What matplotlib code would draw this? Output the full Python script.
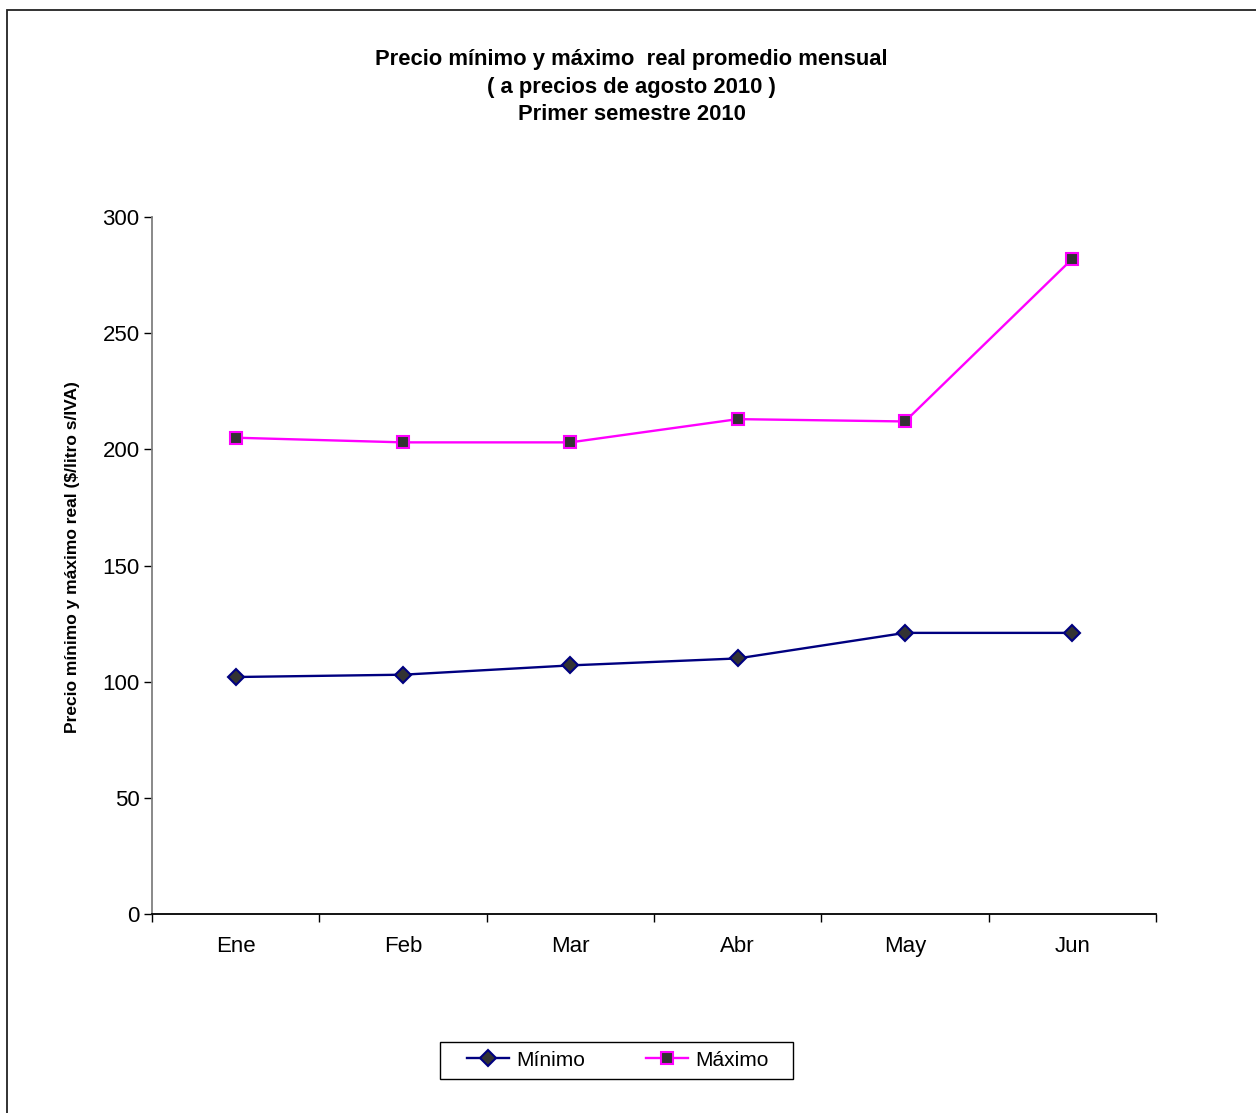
import matplotlib
matplotlib.use("Agg")
import matplotlib.pyplot as plt
from matplotlib.patches import Rectangle

plt.rcParams['font.family'] = ['Liberation Sans', 'DejaVu Sans']

months = ["Ene", "Feb", "Mar", "Abr", "May", "Jun"]
minimo = [102, 103, 107, 110, 121, 121]
maximo = [205, 203, 203, 213, 212, 282]
yticks = [0, 50, 100, 150, 200, 250, 300]

W, H = 1256, 1113
fig = plt.figure(figsize=(W/100, H/100), dpi=100)
# outer chart border (cropped on right and bottom)
fig.patches.append(Rectangle((6.5/W, -0.01), 1.1, 1 - 9.5/H + 0.01,
                             transform=fig.transFigure, fill=False,
                             edgecolor='#222222', linewidth=1.3))

ax = fig.add_axes([152/W, 1 - 914/H, (1156-152)/W, (914-217)/H])
x = list(range(len(months)))
ax.plot(x, minimo, color='#000080', linewidth=1.7, marker='D', markersize=8,
        markerfacecolor='#333333', markeredgecolor='#000080', markeredgewidth=1.5,
        label='Mínimo')
ax.plot(x, maximo, color='#FF00FF', linewidth=1.7, marker='s', markersize=8.5,
        markerfacecolor='#333333', markeredgecolor='#FF00FF', markeredgewidth=1.5,
        label='Máximo')

ax.set_xlim(-0.5, 5.5)
ax.set_ylim(0, 300)
ax.set_yticks(yticks)
ax.set_yticklabels([str(v) for v in yticks], fontsize=16)
ax.set_xticks([i - 0.5 for i in range(len(months) + 1)])
ax.set_xticklabels([])
ax.set_xticks(x, minor=True)
ax.set_xticklabels(months, minor=True, fontsize=16)
ax.tick_params(axis='x', which='major', direction='out', length=6, width=1, color='black')
ax.tick_params(axis='x', which='minor', length=0, pad=16)
ax.tick_params(axis='y', direction='out', length=6, width=1, color='black', pad=3)
for s in ['top', 'right']:
    ax.spines[s].set_visible(False)
ax.spines['left'].set_color('#808080')
ax.spines['left'].set_linewidth(1.3)
ax.spines['bottom'].set_color('black')
ax.spines['bottom'].set_linewidth(1.3)

ax.set_ylabel('Precio mínimo y máximo real ($/litro s/IVA)', fontsize=12.5, fontweight='bold')
ax.yaxis.set_label_coords(-(152-80)/1004, (914-557)/(914-217))

title_lines = ["Precio mínimo y máximo  real promedio mensual",
               "( a precios de agosto 2010 )",
               "Primer semestre 2010"]
for t, yp in zip(title_lines, [59, 87, 115]):
    fig.text(631.5/W, 1 - yp/H, t, ha='center', va='center',
             fontsize=15.8, fontweight='bold')

# legend frame
fig.patches.append(Rectangle((440/W, 1 - 1079/H), (793-440)/W, (1079-1042)/H,
                             transform=fig.transFigure, fill=False,
                             edgecolor='black', linewidth=1.0))
leg = fig.legend(loc='center', bbox_to_anchor=(618/W, 1 - 1060/H), ncol=2,
                 fontsize=15, frameon=False,
                 handlelength=2.0, columnspacing=2.9, handletextpad=0.38,
                 borderpad=0.0)

fig.savefig('out.png', dpi=100, facecolor='white')
